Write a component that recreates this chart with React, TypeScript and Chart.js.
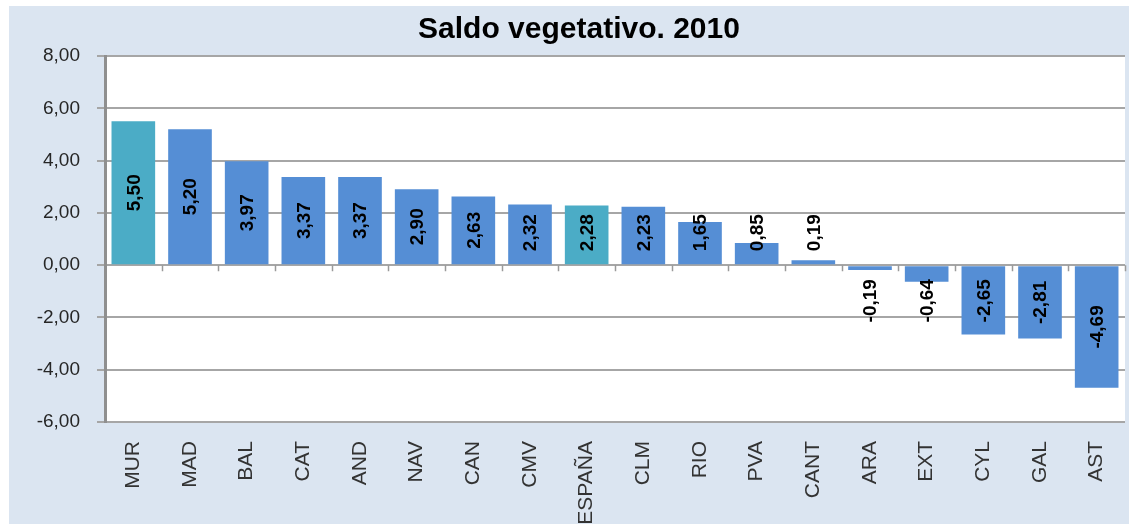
import { useEffect, useRef } from "react";
import { Chart, registerables } from "chart.js";

Chart.register(...registerables);

const chartTitle = "Saldo vegetativo. 2010";
const categories = ["MUR", "MAD", "BAL", "CAT", "AND", "NAV", "CAN", "CMV", "ESPAÑA", "CLM", "RIO", "PVA", "CANT", "ARA", "EXT", "CYL", "GAL", "AST"];
const values = [5.5, 5.2, 3.97, 3.37, 3.37, 2.9, 2.63, 2.32, 2.28, 2.23, 1.65, 0.85, 0.19, -0.19, -0.64, -2.65, -2.81, -4.69];
const highlighted = ["MUR", "ESPAÑA"];
const yMin = -6;
const yMax = 8;
const yStep = 2;

const fmt = (v: number) => v.toFixed(2).replace(".", ",");

const decorPlugin = {
  id: "decor",
  beforeDraw(chart: any) {
    const ctx = chart.ctx;
    const a = chart.chartArea;
    ctx.save();
    ctx.fillStyle = "#ffffff";
    ctx.fillRect(0, 0, chart.width, chart.height);
    ctx.fillStyle = "#dbe5f1";
    ctx.fillRect(9, 6, chart.width - 9, chart.height - 6);
    ctx.fillStyle = "#ffffff";
    ctx.fillRect(a.left, a.top, a.right - a.left, a.bottom - a.top);
    ctx.restore();
  },
  afterDatasetsDraw(chart: any) {
    const ctx = chart.ctx;
    const a = chart.chartArea;
    const y0 = chart.scales.y.getPixelForValue(0);
    const n = categories.length;
    const cw = (a.right - a.left) / n;
    ctx.save();
    ctx.strokeStyle = "#9a9a9a";
    ctx.lineWidth = 1.5;
    ctx.beginPath();
    for (let i = 1; i <= n; i++) {
      const x = Math.round(a.left + i * cw) + 0.5;
      ctx.moveTo(x, y0);
      ctx.lineTo(x, y0 + 6);
    }
    ctx.stroke();

    const meta = chart.getDatasetMeta(0);
    ctx.font = "bold 19px Arial, 'Liberation Sans', sans-serif";
    ctx.fillStyle = "#000000";
    ctx.textAlign = "center";
    ctx.textBaseline = "middle";
    meta.data.forEach((bar: any, i: number) => {
      const v = values[i];
      const txt = fmt(v);
      const half = ctx.measureText(txt).width / 2;
      const mid = (bar.y + bar.base) / 2;
      const cy = v >= 0 ? Math.min(mid, bar.base - 13 - half) : Math.max(mid, bar.base + 13 + half);
      ctx.save();
      ctx.translate(bar.x, cy);
      ctx.rotate(-Math.PI / 2);
      ctx.fillText(txt, 0, 1);
      ctx.restore();
    });

    ctx.font = "bold 30px Arial, 'Liberation Sans', sans-serif";
    ctx.fillText(chartTitle, 579, 30);
    ctx.restore();
  },
};

export default function App() {
  const ref = useRef<HTMLCanvasElement | null>(null);
  useEffect(() => {
    if (!ref.current) return;
    const chart = new Chart(ref.current, {
      type: "bar",
      data: {
        labels: categories,
        datasets: [
          {
            data: values,
            backgroundColor: categories.map((c) => (highlighted.includes(c) ? "#4bacc6" : "#558ed5")),
            borderWidth: 0,
            barPercentage: 0.77,
            categoryPercentage: 1,
          },
        ],
      },
      options: {
        animation: false,
        responsive: false,
        devicePixelRatio: 1,
        layout: { padding: { top: 56, right: 4, left: 0, bottom: 0 } },
        plugins: { legend: { display: false }, tooltip: { enabled: false }, title: { display: false } },
        scales: {
          x: {
            grid: { display: false, drawTicks: false },
            border: { display: false },
            ticks: {
              minRotation: 90,
              maxRotation: 90,
              autoSkip: false,
              padding: 19,
              color: "#333333",
              font: { family: "Arial, 'Liberation Sans', sans-serif", size: 21 },
            },
            afterFit: (s: any) => {
              s.height = 102;
              s.paddingLeft = 0;
              s.paddingRight = 0;
            },
          },
          y: {
            min: yMin,
            max: yMax,
            ticks: {
              stepSize: yStep,
              padding: 17,
              color: "#262626",
              font: { family: "Arial, 'Liberation Sans', sans-serif", size: 19 },
              callback: (v: any) => fmt(Number(v)),
            },
            grid: { color: "#a6a6a6", lineWidth: 2, tickLength: 8 },
            border: { display: true, color: "#8f8f8f", width: 3 },
            afterFit: (s: any) => {
              s.width = 105;
            },
          },
        },
      },
      plugins: [decorPlugin],
    });
    return () => chart.destroy();
  }, []);
  return (
    <div style={{ position: "absolute", left: 0, top: 0, width: 1129, height: 524 }}>
      <canvas ref={ref} width={1129} height={524} style={{ display: "block", width: 1129, height: 524 }} />
    </div>
  );
}
